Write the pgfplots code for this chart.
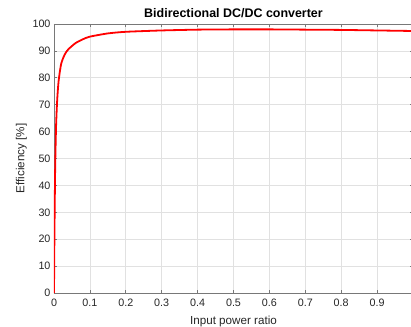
\documentclass[border=0pt]{standalone}
\usepackage{pgfplots}
\pgfplotsset{compat=1.18}
\usepackage{fontspec}
\setmainfont{Liberation Sans}
\definecolor{axgray}{RGB}{120,120,120}
\definecolor{gridgray}{RGB}{225,225,225}
\definecolor{txt}{RGB}{38,38,38}
\begin{document}
\begin{tikzpicture}[x=1bp,y=1bp]
\useasboundingbox (-54,-34) rectangle (357,293);
\begin{axis}[
  at={(0,0)}, anchor=south west,
  scale only axis,
  width=359bp, height=269bp,
  xmin=0, xmax=1, ymin=0, ymax=100,
  xtick={0,0.1,...,1.0},
  xticklabels={0,0.1,0.2,0.3,0.4,0.5,0.6,0.7,0.8,0.9,},
  ytick={0,10,...,100},
  grid=major,
  major grid style={gridgray, line width=0.6bp},
  axis line style={axgray, line width=0.7bp},
  tick style={axgray, line width=0.6bp},
  tick align=inside,
  major tick length=3.5bp,
  xtick pos=both, ytick pos=both,
  tick label style={font=\fontsize{10.8}{12}\selectfont, text=txt},
  /pgf/number format/assume math mode=true,
  xlabel={Input power ratio},
  ylabel={Efficiency [\%]},
  label style={font=\fontsize{11.7}{13}\selectfont, text=txt},
  xlabel style={yshift=-3bp},
  ylabel style={yshift=-1bp},
  title={Bidirectional DC/DC converter},
  title style={font=\bfseries\fontsize{12.5}{14}\selectfont, text=black, yshift=-3bp},
  xticklabel style={yshift=-2bp},
]
\addplot[red, line width=1.8bp, smooth, tension=0.4] coordinates {
(0,0) (0.001,18) (0.002,32) (0.003,44) (0.004,52) (0.006,63) (0.009,72)
(0.013,79) (0.02,85.2) (0.03,88.7) (0.04,90.6) (0.06,92.9) (0.08,94.3)
(0.1,95.3) (0.15,96.5) (0.2,97.1) (0.3,97.6) (0.4,97.9) (0.5,98.0)
(0.6,98.0) (0.7,97.9) (0.8,97.8) (0.9,97.6) (1.0,97.4)
};
\end{axis}
\end{tikzpicture}
\end{document}
